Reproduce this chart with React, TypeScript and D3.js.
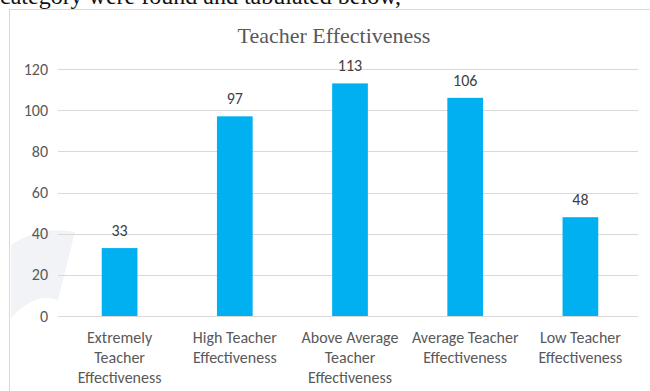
import * as React from "react";
import * as d3 from "d3";

const categories = [
  ["Extremely", "Teacher", "Effectiveness"],
  ["High Teacher", "Effectiveness"],
  ["Above Average", "Teacher", "Effectiveness"],
  ["Average Teacher", "Effectiveness"],
  ["Low Teacher", "Effectiveness"],
];
const counts = [33, 97, 113, 106, 48];
const yTicks = [0, 20, 40, 60, 80, 100, 120];

const W = 650;
const H = 391;

function drawChart(svgRef: React.RefObject<SVGSVGElement | null>) {
  const plot = { left: 62, right: 638, top: 69, bottom: 316 };
  const font = "Carlito, 'Noto Sans', 'Open Sans', sans-serif";

  const x = d3
    .scaleBand<number>()
    .domain(counts.map((_, i) => i))
    .range([plot.left, plot.right])
    .paddingInner(0.69)
    .paddingOuter(0.345);
  const y = d3.scaleLinear().domain([0, 120]).range([plot.bottom, plot.top]);

  const svg = d3.select(svgRef.current).attr("width", W).attr("height", H);
  svg.selectAll("*").remove();

  svg.append("rect").attr("width", W).attr("height", H).attr("fill", "#fff");

  // running text above the chart, cut off at the top
  svg
    .append("text")
    .text("category were found and tabulated below,")
    .attr("x", 0)
    .attr("y", 4)
    .attr("font-family", "'Liberation Serif', 'DejaVu Serif', serif")
    .attr("font-size", 24)
    .attr("fill", "#111");

  // chart frame
  svg
    .append("rect")
    .attr("x", 9.5)
    .attr("y", 9.5)
    .attr("width", W + 20)
    .attr("height", H + 20)
    .attr("fill", "#fff")
    .attr("stroke", "#d9d9d9");

  // faint watermark on the left
  svg
    .append("path")
    .attr("d", "M11,245 Q40,225 75,232 L58,300 Q35,292 11,318 Z")
    .attr("fill", "#f1f3f6");

  svg
    .append("text")
    .text("Teacher Effectiveness")
    .attr("x", 334)
    .attr("y", 43)
    .attr("text-anchor", "middle")
    .attr("font-family", "'Liberation Serif', serif")
    .attr("font-size", 22)
    .attr("fill", "#595959");

  const g = svg.append("g");

  g.selectAll(".grid")
    .data(yTicks)
    .enter()
    .append("line")
    .attr("x1", 58)
    .attr("x2", plot.right)
    .attr("y1", (d) => Math.round(y(d)) + 0.5)
    .attr("y2", (d) => Math.round(y(d)) + 0.5)
    .attr("stroke", "#d9d9d9");

  g.selectAll(".ytick")
    .data(yTicks)
    .enter()
    .append("text")
    .text((d) => d)
    .attr("x", 48)
    .attr("y", (d) => y(d) + 5.5)
    .attr("text-anchor", "end")
    .attr("font-family", font)
    .attr("font-size", 16)
    .attr("fill", "#595959");

  g.selectAll(".bar")
    .data(counts)
    .enter()
    .append("rect")
    .attr("x", (_, i) => x(i)!)
    .attr("width", x.bandwidth())
    .attr("y", (d) => y(d))
    .attr("height", (d) => plot.bottom - y(d))
    .attr("fill", "#00b0f0");

  g.selectAll(".label")
    .data(counts)
    .enter()
    .append("text")
    .text((d) => d)
    .attr("x", (_, i) => x(i)! + x.bandwidth() / 2)
    .attr("y", (d) => y(d) - 12)
    .attr("text-anchor", "middle")
    .attr("font-family", font)
    .attr("font-size", 16)
    .attr("fill", "#404040");

  const cat = g
    .selectAll(".cat")
    .data(categories)
    .enter()
    .append("text")
    .attr("text-anchor", "middle")
    .attr("font-family", font)
    .attr("font-size", 16)
    .attr("fill", "#595959");
  cat
    .selectAll("tspan")
    .data((d, i) => d.map((line) => ({ line, i })))
    .enter()
    .append("tspan")
    .text((d) => d.line)
    .attr("x", (d) => x(d.i)! + x.bandwidth() / 2)
    .attr("y", (_, j) => 343 + j * 20);
}

const App = () => {
  const svgRef = React.useRef<SVGSVGElement>(null);
  React.useEffect(() => {
    drawChart(svgRef);
  }, []);
  return (
    <div style={{ position: "absolute", left: 0, top: 0 }}>
      <svg ref={svgRef} style={{ display: "block" }} />
    </div>
  );
};

export default App;
